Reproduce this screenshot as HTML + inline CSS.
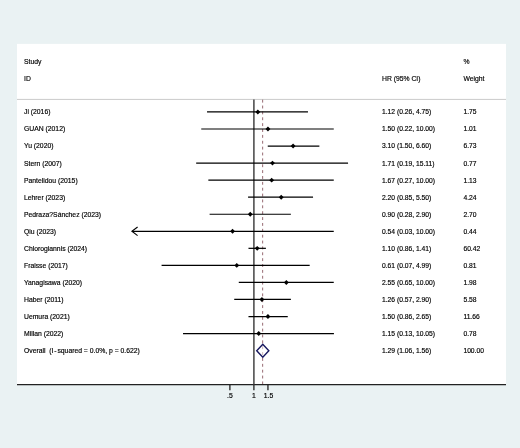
<!DOCTYPE html>
<html><head><meta charset="utf-8"><title>Forest plot</title>
<style>
html,body{margin:0;padding:0;background:#eaf2f3;}
body{width:520px;height:448px;overflow:hidden;}
svg{display:block}
text{font-family:"Liberation Sans",Arial,sans-serif;font-size:6.8px;fill:#000;stroke:#000;stroke-width:0.16px;}
text.n{font-size:6.72px}
</style></head><body>
<svg width="520" height="448" viewBox="0 0 520 448">
<rect x="0" y="0" width="520" height="448" fill="#eaf2f3"/>
<rect x="17" y="43.9" width="489" height="340.6" fill="#ffffff"/>

<line x1="17" y1="99.4" x2="506" y2="99.4" stroke="#cacaca" stroke-width="1"/>
<line x1="17" y1="384.6" x2="506" y2="384.6" stroke="#222" stroke-width="1.4"/>
<line x1="229.89" y1="384.6" x2="229.89" y2="390.3" stroke="#222" stroke-width="1.3"/>
<line x1="253.90" y1="384.6" x2="253.90" y2="390.3" stroke="#222" stroke-width="1.3"/>
<line x1="267.95" y1="384.6" x2="267.95" y2="390.3" stroke="#222" stroke-width="1.3"/>
<text x="229.89" y="397.8" text-anchor="middle">.5</text>
<text x="253.90" y="397.8" text-anchor="middle">1</text>
<text x="268.55" y="397.8" text-anchor="middle">1.5</text>
<line x1="253.90" y1="99.4" x2="253.90" y2="384.6" stroke="#444" stroke-width="1.5"/>
<line x1="262.65" y1="99.7" x2="262.65" y2="384" stroke="#6a2a35" stroke-width="0.7" stroke-dasharray="2.9 2.97"/>
<text x="24" y="63.55">Study</text>
<text x="24" y="80.65">ID</text>
<text x="382" y="80.65">HR (95% CI)</text>
<text x="463.4" y="63.55">%</text>
<text x="463.4" y="80.65">Weight</text>
<line x1="207.04" y1="111.95" x2="307.97" y2="111.95" stroke="#000" stroke-width="1.22"/>
<path d="M255.38 111.95 L257.83 109.50 L260.28 111.95 L257.83 114.40Z" fill="#000"/>
<text x="24" y="114.37">Ji (2016)</text>
<text class="n" x="382" y="114.37">1.12 (0.26, 4.75)</text>
<text class="n" x="463.4" y="114.37">1.75</text>
<line x1="201.25" y1="129.00" x2="333.76" y2="129.00" stroke="#000" stroke-width="1.22"/>
<path d="M265.50 129.00 L267.95 126.55 L270.40 129.00 L267.95 131.45Z" fill="#000"/>
<text x="24" y="131.42">GUAN (2012)</text>
<text class="n" x="382" y="131.42">1.50 (0.22, 10.00)</text>
<text class="n" x="463.4" y="131.42">1.01</text>
<line x1="267.75" y1="146.05" x2="319.37" y2="146.05" stroke="#000" stroke-width="1.22"/>
<path d="M290.64 146.05 L293.09 143.60 L295.54 146.05 L293.09 148.50Z" fill="#000"/>
<text x="24" y="148.47">Yu (2020)</text>
<text class="n" x="382" y="148.47">3.10 (1.50, 6.60)</text>
<text class="n" x="463.4" y="148.47">6.73</text>
<line x1="196.17" y1="163.09" x2="348.06" y2="163.09" stroke="#000" stroke-width="1.22"/>
<path d="M270.03 163.09 L272.48 160.64 L274.93 163.09 L272.48 165.54Z" fill="#000"/>
<text x="24" y="165.51">Stern (2007)</text>
<text class="n" x="382" y="165.51">1.71 (0.19, 15.11)</text>
<text class="n" x="463.4" y="165.51">0.77</text>
<line x1="208.34" y1="180.14" x2="333.76" y2="180.14" stroke="#000" stroke-width="1.22"/>
<path d="M269.21 180.14 L271.66 177.69 L274.11 180.14 L271.66 182.59Z" fill="#000"/>
<text x="24" y="182.56">Pantelidou (2015)</text>
<text class="n" x="382" y="182.56">1.67 (0.27, 10.00)</text>
<text class="n" x="463.4" y="182.56">1.13</text>
<line x1="248.07" y1="197.19" x2="313.05" y2="197.19" stroke="#000" stroke-width="1.22"/>
<path d="M278.76 197.19 L281.21 194.74 L283.66 197.19 L281.21 199.64Z" fill="#000"/>
<text x="24" y="199.61">Lehrer (2023)</text>
<text class="n" x="382" y="199.61">2.20 (0.85, 5.50)</text>
<text class="n" x="463.4" y="199.61">4.24</text>
<line x1="209.60" y1="214.24" x2="290.88" y2="214.24" stroke="#000" stroke-width="1.22"/>
<path d="M247.80 214.24 L250.25 211.79 L252.70 214.24 L250.25 216.69Z" fill="#000"/>
<text x="24" y="216.66">Pedraza?Sánchez (2023)</text>
<text class="n" x="382" y="216.66">0.90 (0.28, 2.90)</text>
<text class="n" x="463.4" y="216.66">2.70</text>
<polyline points="137.6,226.99 131.9,231.29 137.6,235.59" fill="none" stroke="#000" stroke-width="1.1" stroke-linejoin="miter"/>
<line x1="132.20" y1="231.29" x2="333.76" y2="231.29" stroke="#000" stroke-width="1.22"/>
<path d="M230.11 231.29 L232.56 228.84 L235.01 231.29 L232.56 233.74Z" fill="#000"/>
<text x="24" y="233.71">Qiu (2023)</text>
<text class="n" x="382" y="233.71">0.54 (0.03, 10.00)</text>
<text class="n" x="463.4" y="233.71">0.44</text>
<line x1="248.48" y1="248.33" x2="265.90" y2="248.33" stroke="#000" stroke-width="1.22"/>
<path d="M254.75 248.33 L257.20 245.88 L259.65 248.33 L257.20 250.78Z" fill="#000"/>
<text x="24" y="250.75">Chlorogiannis (2024)</text>
<text class="n" x="382" y="250.75">1.10 (0.86, 1.41)</text>
<text class="n" x="463.4" y="250.75">60.42</text>
<line x1="161.58" y1="265.38" x2="309.68" y2="265.38" stroke="#000" stroke-width="1.22"/>
<path d="M234.33 265.38 L236.78 262.93 L239.23 265.38 L236.78 267.83Z" fill="#000"/>
<text x="24" y="267.80">Fraisse (2017)</text>
<text class="n" x="382" y="267.80">0.61 (0.07, 4.99)</text>
<text class="n" x="463.4" y="267.80">0.81</text>
<line x1="238.78" y1="282.43" x2="333.76" y2="282.43" stroke="#000" stroke-width="1.22"/>
<path d="M283.88 282.43 L286.33 279.98 L288.78 282.43 L286.33 284.88Z" fill="#000"/>
<text x="24" y="284.85">Yanagisawa (2020)</text>
<text class="n" x="382" y="284.85">2.55 (0.65, 10.00)</text>
<text class="n" x="463.4" y="284.85">1.98</text>
<line x1="234.23" y1="299.48" x2="290.88" y2="299.48" stroke="#000" stroke-width="1.22"/>
<path d="M259.46 299.48 L261.91 297.03 L264.36 299.48 L261.91 301.93Z" fill="#000"/>
<text x="24" y="301.90">Haber (2011)</text>
<text class="n" x="382" y="301.90">1.26 (0.57, 2.90)</text>
<text class="n" x="463.4" y="301.90">5.58</text>
<line x1="248.48" y1="316.53" x2="287.76" y2="316.53" stroke="#000" stroke-width="1.22"/>
<path d="M265.50 316.53 L267.95 314.08 L270.40 316.53 L267.95 318.98Z" fill="#000"/>
<text x="24" y="318.95">Uemura (2021)</text>
<text class="n" x="382" y="318.95">1.50 (0.86, 2.65)</text>
<text class="n" x="463.4" y="318.95">11.66</text>
<line x1="183.03" y1="333.57" x2="333.93" y2="333.57" stroke="#000" stroke-width="1.22"/>
<path d="M256.29 333.57 L258.74 331.12 L261.19 333.57 L258.74 336.02Z" fill="#000"/>
<text x="24" y="335.99">Millan (2022)</text>
<text class="n" x="382" y="335.99">1.15 (0.13, 10.05)</text>
<text class="n" x="463.4" y="335.99">0.78</text>
<text x="24" y="353.04" xml:space="preserve">Overall  (I<tspan dx="0.85">-</tspan><tspan dx="0.85">squared = 0.0%, p = 0.622)</tspan></text>
<text class="n" x="382" y="353.04">1.29 (1.06, 1.56)</text>
<text class="n" x="463.4" y="353.04">100.00</text>
<path d="M256.73 350.70 L262.78 344.20 L268.83 350.70 L262.78 357.20Z" fill="#fff" fill-opacity="0.5" stroke="#17175e" stroke-width="1.4"/>
</svg></body></html>
